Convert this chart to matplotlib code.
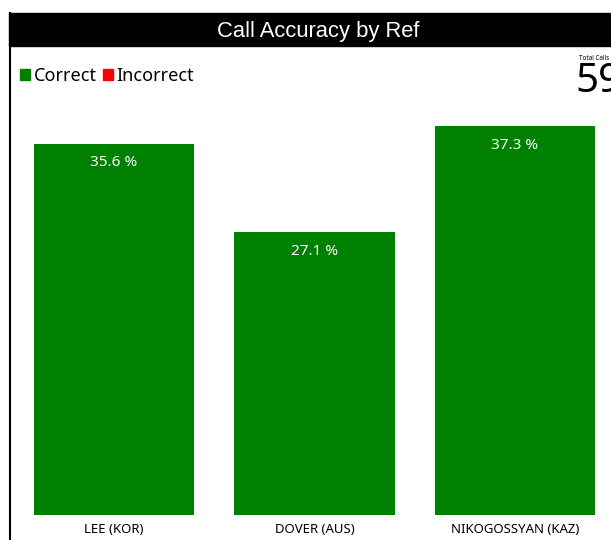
import matplotlib
matplotlib.use('Agg')
import matplotlib.pyplot as plt
from matplotlib.patches import Patch, Rectangle
from matplotlib.lines import Line2D
import numpy as np

# data
refs = ["LEE (KOR)", "DOVER (AUS)", "NIKOGOSSYAN (KAZ)"]
correct_pct = [35.6, 27.1, 37.3]
total_calls = 59
title = "Call Accuracy by Ref"

GREEN = "#008000"
RED = "#ff0000"

plt.rcParams['font.family'] = ['Noto Sans', 'DejaVu Sans']

W, H = 611, 540
fig = plt.figure(figsize=(W / 100, H / 100), dpi=100)

# black title bar + left frame line
fig.patches.append(Rectangle((9 / W, 1 - 46 / H), 1 - 9 / W, 33 / H,
                             transform=fig.transFigure, color="black", zorder=0))
fig.lines.append(Line2D([9.5 / W, 9.5 / W], [0, 1 - 13 / H],
                        transform=fig.transFigure, color="black", linewidth=1.5))
fig.text(318 / W, 1 - 32 / H, title, color="white", fontsize=15.8,
         family="Liberation Sans", ha="center", va="center")

# bar area
ax = fig.add_axes([10 / W, 25 / H, 1 - 10 / W, 420 / H])
x = np.arange(len(refs))
bars = ax.bar(x, correct_pct, width=0.8, color=GREEN)
for rect, v in zip(bars, correct_pct):
    ax.annotate(f"{v} %", (rect.get_x() + rect.get_width() / 2, v),
                xytext=(0, -8.5), textcoords="offset points",
                ha="center", va="top", color="white", fontsize=11)

ax.set_xlim(-0.519, 2.479)
ax.set_ylim(0, 420 / 10.43)
ax.set_xticks(x, refs, fontsize=9.5)
ax.tick_params(axis="x", length=0, pad=6)
ax.set_yticks([])
for s in ax.spines.values():
    s.set_visible(False)

# legend
handles = [Patch(color=GREEN, label="Correct"), Patch(color=RED, label="Incorrect")]
fig.legend(handles=handles, loc="center left", bbox_to_anchor=(20 / W, 1 - 76 / H),
           ncol=2, frameon=False, fontsize=13, handlelength=0.55, handleheight=0.55,
           handletextpad=0.2, columnspacing=0.35, borderaxespad=0, borderpad=0)

# total calls KPI, clipped at right edge like the reference
fig.text(579 / W, 1 - 58 / H, "Total Calls", fontsize=4.5, ha="left", va="center")
fig.text(575 / W, 1 - 82 / H, str(total_calls), fontsize=29, ha="left", va="center")

fig.savefig("out.png", dpi=100)
